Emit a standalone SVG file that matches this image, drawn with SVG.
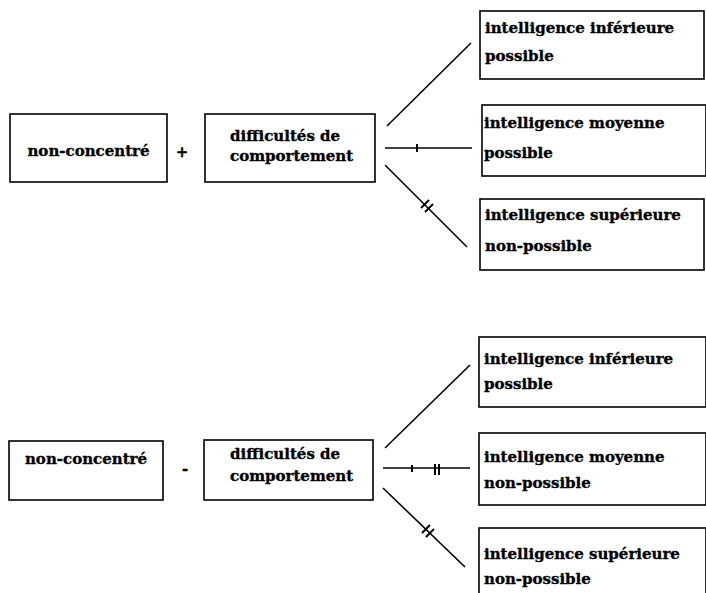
<svg xmlns="http://www.w3.org/2000/svg" width="706" height="593" viewBox="0 0 706 593">
<style>
.box{fill:#fff;stroke:#000;stroke-width:1.6}
.t{font-family:"DejaVu Serif","Liberation Serif",serif;font-weight:bold;font-size:15px;fill:#000;stroke:#000;stroke-width:0.35}
.c{fill:none;stroke:#000;stroke-width:1.6}
.m{fill:none;stroke:#000;stroke-width:2}
</style>
<rect width="706" height="593" fill="#fff"/>
<g id="connectors">
<line class="c" x1="387" y1="126" x2="471" y2="43"/>
<line class="c" x1="385" y1="148" x2="472" y2="148"/>
<line class="m" x1="417" y1="144" x2="417" y2="152"/>
<line class="c" x1="385" y1="165" x2="467" y2="247"/>
<line class="m" x1="421" y1="208" x2="429" y2="200"/>
<line class="m" x1="425" y1="212" x2="433" y2="204"/>
<line class="c" x1="385" y1="448" x2="470" y2="365"/>
<line class="c" x1="383" y1="468" x2="470" y2="468"/>
<line class="m" x1="412" y1="465" x2="412" y2="472"/>
<line class="m" x1="435" y1="464" x2="435" y2="475"/>
<line class="m" x1="439" y1="464" x2="439" y2="475"/>
<line class="c" x1="383" y1="488" x2="465" y2="567"/>
<line class="m" x1="422" y1="533" x2="430" y2="525"/>
<line class="m" x1="426" y1="537" x2="434" y2="529"/>
</g>
<g id="top-nonconcentre">
<rect class="box" x="10" y="114" width="157" height="68"/>
<text class="t" x="88.5" y="156" text-anchor="middle">non-concentré</text>
</g>
<g id="top-plus"><text class="t" x="182" y="157" text-anchor="middle">+</text></g>
<g id="top-difficultes">
<rect class="box" x="205" y="114" width="170" height="68"/>
<text class="t" x="230" y="141">difficultés de</text>
<text class="t" x="230" y="161">comportement</text>
</g>
<g id="top-inferieure">
<rect class="box" x="480" y="11" width="224" height="68"/>
<text class="t" x="485" y="33">intelligence inférieure</text>
<text class="t" x="485" y="61">possible</text>
</g>
<g id="top-moyenne">
<rect class="box" x="482" y="105" width="224" height="71"/>
<text class="t" x="484" y="128">intelligence moyenne</text>
<text class="t" x="484" y="158">possible</text>
</g>
<g id="top-superieure">
<rect class="box" x="480" y="199" width="224" height="71"/>
<text class="t" x="485" y="220">intelligence supérieure</text>
<text class="t" x="485" y="251">non-possible</text>
</g>
<g id="bot-nonconcentre">
<rect class="box" x="9" y="441" width="154" height="59"/>
<text class="t" x="86" y="464" text-anchor="middle">non-concentré</text>
</g>
<g id="bot-minus"><text class="t" x="185" y="474" text-anchor="middle">-</text></g>
<g id="bot-difficultes">
<rect class="box" x="204" y="440" width="169" height="60"/>
<text class="t" x="230" y="459">difficultés de</text>
<text class="t" x="230" y="481">comportement</text>
</g>
<g id="bot-inferieure">
<rect class="box" x="479" y="337" width="227" height="70"/>
<text class="t" x="484" y="364">intelligence inférieure</text>
<text class="t" x="484" y="389">possible</text>
</g>
<g id="bot-moyenne">
<rect class="box" x="479" y="433" width="227" height="72"/>
<text class="t" x="484" y="462">intelligence moyenne</text>
<text class="t" x="484" y="488">non-possible</text>
</g>
<g id="bot-superieure">
<rect class="box" x="479" y="528" width="227" height="80"/>
<text class="t" x="484" y="559">intelligence supérieure</text>
<text class="t" x="484" y="584">non-possible</text>
</g>
</svg>
